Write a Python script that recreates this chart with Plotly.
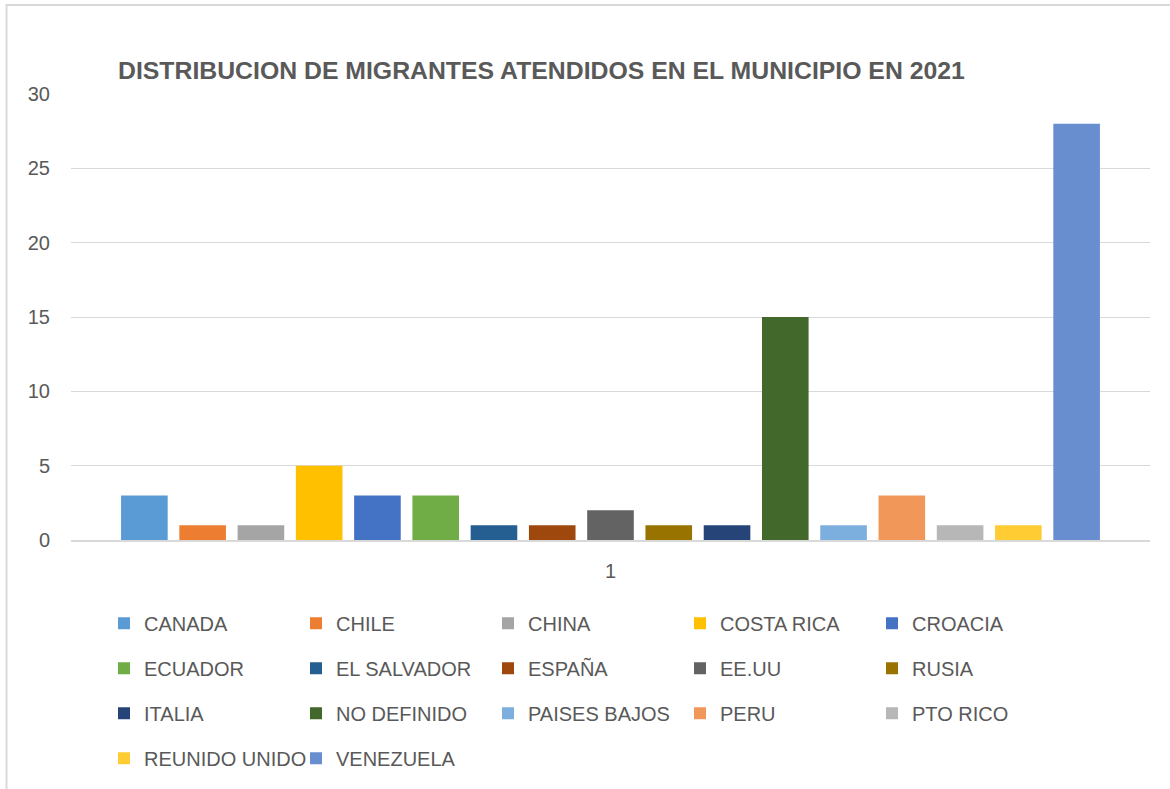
import plotly.graph_objects as go

# ---- data ----
categories = ["1"]
countries = ["CANADA", "CHILE", "CHINA", "COSTA RICA", "CROACIA",
             "ECUADOR", "EL SALVADOR", "ESPAÑA", "EE.UU", "RUSIA",
             "ITALIA", "NO DEFINIDO", "PAISES BAJOS", "PERU", "PTO RICO",
             "REUNIDO UNIDO", "VENEZUELA"]
values = [3, 1, 1, 5, 3, 3, 1, 1, 2, 1, 1, 15, 1, 3, 1, 1, 28]
colors = ["#5B9BD5", "#ED7D31", "#A5A5A5", "#FFC000", "#4472C4",
          "#70AD47", "#255E91", "#9E480E", "#636363", "#997300",
          "#264478", "#43682B", "#7CAFDD", "#F1975A", "#B7B7B7",
          "#FFCD33", "#698ED0"]
y_ticks = [0, 5, 10, 15, 20, 25, 30]
title_text = "DISTRIBUCION DE MIGRANTES ATENDIDOS EN EL MUNICIPIO EN 2021"

W, H = 1170, 789
ML, MR, MT = 71, 20, 94
PLOT_BOTTOM = 539.8
MB = H - PLOT_BOTTOM
PW = W - ML - MR
PH = PLOT_BOTTOM - MT

def px_x(x):
    return (x - ML) / PW

def px_y(y):
    return (PLOT_BOTTOM - y) / PH

FONT = "Liberation Sans, Arial, sans-serif"
GRAY = "#595959"

legend_names = ["legend", "legend2", "legend3", "legend4"]
fig = go.Figure()
for i, (name, val, col) in enumerate(zip(countries, values, colors)):
    fig.add_trace(go.Bar(
        x=categories, y=[val], name=name,
        marker=dict(color=col, line=dict(width=0)),
        legend=legend_names[i // 5],
        hovertemplate=name + ": %{y}<extra></extra>",
    ))

row_y = [623, 668, 713, 758]
legend_common = dict(
    orientation="h", xanchor="left", yanchor="middle",
    x=px_x(104), entrywidth=147, entrywidthmode="pixels",
    font=dict(family=FONT, size=20, color=GRAY),
    bgcolor="rgba(0,0,0,0)", borderwidth=0, itemclick=False,
    traceorder="normal",
)
legend_layouts = {}
for k, ln in enumerate(legend_names):
    legend_layouts[ln] = dict(legend_common, y=px_y(row_y[k]))

fig.update_layout(
    width=W, height=H,
    margin=dict(l=ML, r=MR, t=MT, b=MB, pad=0, autoexpand=False),
    paper_bgcolor="white", plot_bgcolor="white",
    barmode="group", bargap=0.082, bargroupgap=0.2,
    font=dict(family=FONT, color=GRAY),
    showlegend=True,
    **legend_layouts,
    xaxis=dict(
        type="category", showgrid=False, zeroline=False,
        showline=True, linecolor="#D9D9D9", linewidth=1.5,
        ticks="", tickfont=dict(family=FONT, size=20, color=GRAY),
        ticklabelstandoff=12, fixedrange=True,
    ),
    yaxis=dict(
        range=[0, 30], tickvals=y_ticks, showgrid=True,
        gridcolor="#D9D9D9", gridwidth=1.3, zeroline=False,
        showline=False, ticks="",
        tickfont=dict(family=FONT, size=20, color=GRAY),
        ticklabelstandoff=20, fixedrange=True,
    ),
    annotations=[dict(
        text="<b>" + title_text + "</b>", xref="paper", yref="paper",
        x=px_x(116), y=px_y(71), xanchor="left", yanchor="middle",
        showarrow=False, font=dict(family=FONT, size=24.8, color=GRAY),
    )],
    shapes=[dict(
        type="rect", xref="paper", yref="paper",
        x0=px_x(6.5), x1=px_x(1185), y0=px_y(810), y1=px_y(5),
        line=dict(color="#D9D9D9", width=2), fillcolor="rgba(0,0,0,0)",
        layer="below",
    )],
)

fig.write_html("out.html", config={"displayModeBar": False},
               post_script="document.body.style.margin='0';")
